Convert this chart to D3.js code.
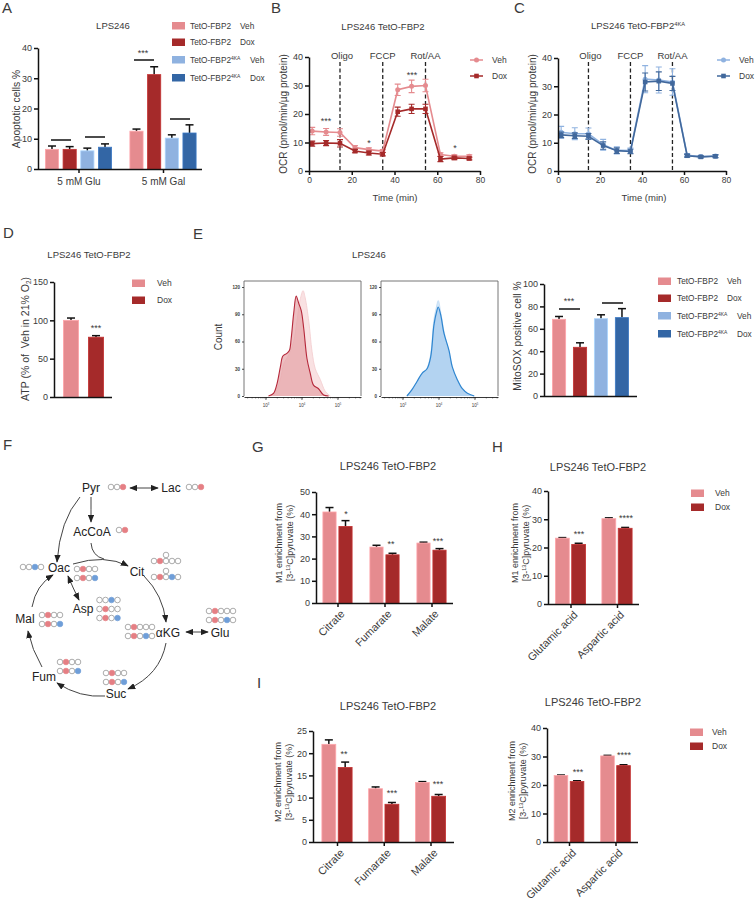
<!DOCTYPE html>
<html>
<head>
<meta charset="utf-8">
<script src="https://cdn.jsdelivr.net/npm/d3@7"></script>
<style>
  html, body { margin: 0; padding: 0; background: #fff; }
  svg { display: block; }
  text { font-family: "Liberation Sans", Arial, sans-serif; fill: #3a3a3a; }
  .tick text { fill: #3a3a3a; }
</style>
</head>
<body>
<div id="chart"></div>
<script>
// colours
const vehRed = "#e58b8f", doxRed = "#a52a2a", vehBlue = "#8fb2e0", doxBlue = "#3366a5";

// A
const aCats = ["5 mM Glu", "5 mM Gal"];
const aValues = [[6.5, 6.5, 6, 7.2], [12.5, 31.2, 10.2, 11.9]];
const aErrors = [[1.1, 0.9, 0.9, 1.1], [0.7, 2.6, 1.1, 2.7]];
const aTicks = [0, 10, 20, 30, 40];

// B, C seahorse traces
const times = [1.5, 8, 14.5, 21.5, 28, 34.5, 41.5, 48, 54.5, 61.5, 68, 75];
const bVeh = [14, 13.7, 13.5, 8.2, 7.5, 7, 28.5, 29.7, 30, 5.8, 5.2, 5.2];
const bVehErr = [1.3, 1.2, 1.3, 0.7, 0.6, 0.5, 2, 2.2, 2.2, 0.6, 0.5, 0.5];
const bDox = [9.6, 9.8, 9.7, 7, 6.3, 5.9, 20.8, 21.8, 21.8, 4.2, 4.6, 4.4];
const bDoxErr = [0.9, 0.9, 1.3, 0.6, 0.7, 0.6, 1.6, 1.6, 1.6, 0.9, 0.6, 0.5];
const cVeh = [13.7, 13.2, 13.2, 9.3, 7.3, 7.2, 32.5, 32.2, 31.5, 5.6, 5.1, 5.3];
const cVehErr = [2.1, 2.1, 2, 1.9, 1.3, 0.9, 4.8, 4.6, 4.7, 0.6, 0.4, 0.5];
const cDox = [12.8, 12.5, 12.3, 9, 7.2, 6.9, 31.5, 31.8, 31, 5.4, 5, 5.2];
const cDoxErr = [1, 1, 1, 1.3, 1, 0.8, 3.2, 3.3, 2.5, 0.5, 0.4, 0.5];
const injections = [14.5, 34.5, 54.5];
const injectionNames = ["Oligo", "FCCP", "Rot/AA"];
const ocrTicks = [0, 10, 20, 30, 40];
const timeTicks = [0, 20, 40, 60, 80];

// D
const dValues = [[100, 78]];
const dErrors = [[3, 2]];
const dTicks = [0, 50, 100, 150];

// E histograms: log10 intensity, count
const eVehLog = [3.12, 3.26, 3.4, 3.49, 3.63, 3.77, 3.86, 3.95, 4.03, 4.09, 4.19, 4.28, 4.37, 4.51, 4.65, 4.79];
const eVehCount = [0, 5, 18, 35, 45, 60, 82, 106, 116, 108, 82, 49, 30, 18, 5, 0];
const eDoxLog = [3.07, 3.21, 3.31, 3.4, 3.47, 3.58, 3.65, 3.7, 3.77, 3.84, 3.91, 3.98, 4.05, 4.14, 4.23, 4.32, 4.46, 4.6, 4.74];
const eDoxCount = [0, 3, 14, 32, 44, 47, 50, 63, 91, 110, 102, 94, 74, 41, 25, 12, 8, 1, 0];
const eBlueLog = [3.11, 3.25, 3.39, 3.53, 3.67, 3.77, 3.86, 3.93, 3.98, 4.05, 4.14, 4.28, 4.37, 4.51, 4.65, 4.79, 4.98];
const eBlueCount = [0, 7, 16, 25, 30, 43, 78, 92, 98, 89, 69, 50, 32, 18, 8, 3, 0];
const eBlueLightCount = [0, 6, 15, 24, 31, 46, 84, 98, 105, 92, 71, 48, 31, 17, 7, 2, 0];
const histTicks = [0, 30, 60, 90, 120];
const eValues = [[68.5, 43.5, 69, 70]];
const eErrors = [[2.5, 4, 3.5, 8]];
const eTicks = [0, 20, 40, 60, 80, 100];

// G, H, I
const acids = ["Citrate", "Fumarate", "Malate"];
const aminos = ["Glutamic acid", "Aspartic acid"];
const gValues = [[41, 34.5], [25.2, 21.7], [27, 23.8]];
const gErrors = [[2, 2.6], [0.8, 0.7], [0.4, 0.7]];
const gTicks = [0, 10, 20, 30, 40, 50];
const hValues = [[23.3, 21.1], [30.2, 26.8]];
const hErrors = [[0.2, 0.4], [0.3, 0.3]];
const hTicks = [0, 10, 20, 30, 40];
const iValues = [[22, 16.8], [12, 8.5], [13.4, 10.3]];
const iErrors = [[1, 1.2], [0.4, 0.4], [0.2, 0.4]];
const iTicks = [0, 5, 10, 15, 20, 25];
const jValues = [[23.3, 21.2], [30.2, 26.8]];
const jErrors = [[0.2, 0.3], [0.2, 0.3]];

// F labels
const metabolites = ["Pyr", "Lac", "AcCoA", "Oac", "Cit", "αKG", "Glu", "Suc", "Fum", "Mal", "Asp"];

const svg = d3.select("#chart").append("svg").attr("width", 756).attr("height", 900);

const defs = svg.append("defs");
function marker(id, orient) {
  defs.append("marker").attr("id", id)
    .attr("viewBox", "0 0 10 8").attr("refX", 9).attr("refY", 4)
    .attr("markerUnits", "userSpaceOnUse").attr("markerWidth", 8).attr("markerHeight", 6.4)
    .attr("orient", orient)
    .append("path").attr("d", "M0,0L10,4L0,8Z").attr("fill", "#222");
}
marker("arrow", "auto");
marker("arrow-start", "auto-start-reverse");

function label(g, x, y, str, size, anchor) {
  return g.append("text").attr("x", x).attr("y", y)
    .attr("font-size", size).attr("text-anchor", anchor || "middle").text(str);
}

// text with a raised or lowered bit, pieces = [[text, "sup"|"sub"|null], ...]
function richText(sel, pieces, size) {
  let shift = 0;
  pieces.forEach(([t, kind]) => {
    const target = kind === "sup" ? -size * 0.35 : kind === "sub" ? size * 0.2 : 0;
    sel.append("tspan").attr("dy", target - shift)
      .attr("font-size", kind ? size * 0.6 : size).text(t);
    shift = target;
  });
}

function yTitle(g, x, y, pieces, size) {
  const t = g.append("text").attr("transform", `translate(${x},${y}) rotate(-90)`)
    .attr("text-anchor", "middle").attr("font-size", size);
  richText(t, pieces, size);
}

function styleAxis(a, size) {
  a.selectAll(".domain").attr("stroke", "#111").attr("stroke-width", 1.5);
  a.selectAll(".tick line").attr("stroke", "#111").attr("stroke-width", 1.5);
  a.selectAll(".tick text").attr("font-size", size)
    .attr("font-family", '"Liberation Sans", Arial, sans-serif');
}

// grouped bars with upper error bars
function barChart(o) {
  const g = svg.append("g");
  const y = d3.scaleLinear().domain([0, d3.max(o.ticks)]).range([o.y0, o.y1]);
  const x0 = d3.scalePoint().domain(o.cats).range(o.centers);
  const nSeries = o.values[0].length;
  const x1 = d3.scaleBand().domain(d3.range(nSeries))
    .range([-o.groupW / 2, o.groupW / 2]).paddingInner(o.pad);

  o.values.forEach((row, i) => {
    row.forEach((v, j) => {
      const cx = x0(o.cats[i]) + x1(j) + x1.bandwidth() / 2;
      const top = y(v + o.errors[i][j]);
      g.append("line").attr("x1", cx).attr("x2", cx).attr("y1", y(v)).attr("y2", top)
        .attr("stroke", "#111").attr("stroke-width", 1.5);
      g.append("line").attr("x1", cx - 4).attr("x2", cx + 4).attr("y1", top).attr("y2", top)
        .attr("stroke", "#111").attr("stroke-width", 1.5);
      g.append("rect").attr("x", x0(o.cats[i]) + x1(j) + 0.4).attr("y", y(v))
        .attr("width", x1.bandwidth() - 0.8).attr("height", y(0) - y(v))
        .attr("fill", o.colors[j])
        .attr("stroke", d3.color(o.colors[j]).brighter(0.5)).attr("stroke-width", 0.8);
    });
  });

  const ay = g.append("g").attr("transform", `translate(${o.x},0)`)
    .call(d3.axisLeft(y).tickValues(o.ticks).tickSize(4).tickPadding(2).tickSizeOuter(0));
  styleAxis(ay, 9);

  const ax = g.append("g").attr("transform", `translate(0,${o.y0})`)
    .call(d3.axisBottom(x0).tickSize(o.hideXTicks ? 0 : 4).tickPadding(o.rotate ? 4 : 5));
  ax.select(".domain").attr("d", `M${o.x},0.5H${o.xEnd}`);
  styleAxis(ax, o.rotate ? 10.8 : 10);
  if (o.hideXTicks) ax.selectAll(".tick text").remove();
  if (o.rotate) {
    ax.selectAll(".tick text").attr("text-anchor", "end")
      .attr("transform", "rotate(-45)").attr("dx", "-3").attr("dy", "0.5em");
  }
  return { g, x0, x1, y };
}

function legendBars(x, textX, rows, size) {
  rows.forEach(r => {
    svg.append("rect").attr("x", x).attr("y", r.y - 3.5).attr("width", r.w || 13).attr("height", 7.5)
      .attr("fill", r.color);
    const t = svg.append("text").attr("x", textX).attr("y", r.y + 3).attr("font-size", size);
    if (r.kind) {
      richText(t, [["TetO-FBP2", null], ["4KA", "sup"]], size);
      label(svg, r.x2b, r.y + 3, r.label, size, "start");
    } else if (r.base) {
      t.text(r.base);
      label(svg, r.x2, r.y + 3, r.label, size, "start");
    } else {
      t.text(r.label);
    }
  });
}

function stars(str, x, y) {
  label(svg, x, y, str, 9);
}
function sigLine(x1, x2, y) {
  svg.append("line").attr("x1", x1).attr("x2", x2).attr("y1", y).attr("y2", y)
    .attr("stroke", "#111").attr("stroke-width", 1.5);
}

// panel letters
[["A", 2, 13], ["B", 271, 13], ["C", 514, 13], ["D", 3, 238], ["E", 193, 239],
 ["F", 3, 450], ["G", 252, 452], ["H", 492, 452], ["I", 257, 688]].forEach(d => {
  label(svg, d[1], d[2], d[0], 15, "start");
});

// ---- A
label(svg, 113, 29, "LPS246", 9.5);
barChart({ cats: aCats, values: aValues, errors: aErrors, ticks: aTicks, colors: [vehRed, doxRed, vehBlue, doxBlue],
  x: 38, xEnd: 202, y0: 169, y1: 48, centers: [78.5, 163], groupW: 67, pad: 0.21 });
yTitle(svg, 20, 109, [["Apoptotic cells %", null]], 10.3);
legendBars(172, 190, [
  { y: 25.5, color: vehRed, base: "TetO-FBP2", label: "Veh", x2: 240 },
  { y: 42, color: doxRed, base: "TetO-FBP2", label: "Dox", x2: 240 },
  { y: 59.5, color: vehBlue, kind: 1, label: "Veh", x2b: 250 },
  { y: 77.5, color: doxBlue, kind: 1, label: "Dox", x2b: 250 }
], 8.3);
sigLine(51, 71, 140); sigLine(85, 105, 137); sigLine(134, 154, 60); sigLine(170, 190, 119);
stars("***", 143, 56);

// ---- B, C
function ocrChart(o) {
  const g = svg.append("g");
  const x = d3.scaleLinear().domain([0, 80]).range([o.x, o.xEnd]);
  const y = d3.scaleLinear().domain([0, 40]).range([o.y0, o.y1]);
  const line = d3.line().x((d, i) => x(times[i])).y(d => y(d));

  injections.forEach((t, i) => {
    g.append("line").attr("x1", x(t)).attr("x2", x(t)).attr("y1", 62).attr("y2", o.y0)
      .attr("stroke", "#222").attr("stroke-width", 1.3).attr("stroke-dasharray", "4,2.5");
    label(g, x(t) + (i === 0 ? 2 : 0), 58.5, injectionNames[i], 9.5);
  });

  o.series.forEach(s => {
    g.append("path").attr("d", line(s.values)).attr("fill", "none")
      .attr("stroke", s.color).attr("stroke-width", 1.6);
    s.values.forEach((v, i) => {
      const cx = x(times[i]);
      const hi = y(v + s.errors[i]), lo = y(v - s.errors[i]);
      g.append("path").attr("d", `M${cx - 3},${hi}H${cx + 3}M${cx},${hi}V${lo}M${cx - 3},${lo}H${cx + 3}`)
        .attr("fill", "none").attr("stroke", s.color).attr("stroke-width", 1.1);
      if (s.square) {
        g.append("rect").attr("x", cx - 2.3).attr("y", y(v) - 2.3).attr("width", 4.6).attr("height", 4.6).attr("fill", s.color);
      } else {
        g.append("circle").attr("cx", cx).attr("cy", y(v)).attr("r", 2.5).attr("fill", s.color);
      }
    });
  });

  styleAxis(g.append("g").attr("transform", `translate(${o.x},0)`)
    .call(d3.axisLeft(y).tickValues(ocrTicks).tickSize(4).tickPadding(2).tickSizeOuter(0)), 9);
  styleAxis(g.append("g").attr("transform", `translate(0,${o.y0})`)
    .call(d3.axisBottom(x).tickValues(timeTicks).tickSize(4).tickPadding(2).tickSizeOuter(0)), 8.5);

  yTitle(g, o.x - 22, 114, [["OCR (pmol/min/µg protein)", null]], 10);
  label(g, o.x + 86, 200.5, "Time (min)", 9.5);

  o.series.forEach((s, i) => {
    const ly = 60 + i * 16;
    g.append("line").attr("x1", o.legX).attr("x2", o.legX + 13).attr("y1", ly).attr("y2", ly)
      .attr("stroke", s.color).attr("stroke-width", 1.5);
    if (s.square) {
      g.append("rect").attr("x", o.legX + 4.2).attr("y", ly - 2.3).attr("width", 4.6).attr("height", 4.6).attr("fill", s.color);
    } else {
      g.append("circle").attr("cx", o.legX + 6.5).attr("cy", ly).attr("r", 2.5).attr("fill", s.color);
    }
    label(g, o.legX + 22, ly + 3, s.name, 8.5, "start");
  });
}
ocrChart({ x: 309, xEnd: 480, y0: 171, y1: 57, legX: 470, series: [
  { name: "Veh", values: bVeh, errors: bVehErr, color: vehRed },
  { name: "Dox", values: bDox, errors: bDoxErr, color: doxRed, square: true } ] });
ocrChart({ x: 558, xEnd: 726, y0: 171, y1: 58, legX: 717, series: [
  { name: "Veh", values: cVeh, errors: cVehErr, color: vehBlue },
  { name: "Dox", values: cDox, errors: cDoxErr, color: "#41689c", square: true } ] });
label(svg, 383, 30, "LPS246 TetO-FBP2", 9.5);
const cTitle = svg.append("text").attr("x", 638).attr("y", 29).attr("text-anchor", "middle").attr("font-size", 9.5);
richText(cTitle, [["LPS246 TetO-FBP2", null], ["4KA", "sup"]], 9.5);
stars("***", 326, 124); stars("*", 369, 146); stars("***", 412, 78); stars("*", 455, 151);

// ---- D
label(svg, 89, 258, "LPS246 TetO-FBP2", 9.5);
barChart({ cats: ["ATP"], values: dValues, errors: dErrors, ticks: dTicks, colors: [vehRed, doxRed],
  x: 54, xEnd: 112, y0: 397, y1: 282, centers: [83.5, 83.5], groupW: 41, pad: 0.36, hideXTicks: true });
yTitle(svg, 29, 339, [["ATP (% of\u00a0\u00a0Veh in 21% O", null], ["2", "sub"], [")", null]], 10.5);
legendBars(132, 157, [{ y: 283, color: vehRed, label: "Veh" }, { y: 300, color: doxRed, label: "Dox" }], 8.5);
stars("***", 96, 331);

// ---- E histograms
label(svg, 369, 258, "LPS246", 9.5);
function histogram(o) {
  const g = svg.append("g");
  const x = d3.scaleLog().domain([Math.pow(10, 2.39), Math.pow(10, 5.64)]).range([o.x, o.x + 117]);
  const y = d3.scaleLinear().domain([0, 120]).range([396, 287]);
  const area = d3.area().curve(d3.curveCatmullRom)
    .x(d => x(Math.pow(10, d[0]))).y0(396).y1(d => y(d[1]));
  const line = area.lineY1();

  o.traces.forEach(t => {
    const pts = t.logs.map((l, i) => [l, t.counts[i]]);
    g.append("path").attr("d", area(pts)).attr("fill", t.fill).attr("fill-opacity", t.opacity);
    g.append("path").attr("d", line(pts)).attr("fill", "none").attr("stroke", t.stroke).attr("stroke-width", t.width);
  });

  g.append("path").attr("d", `M${o.x},396V281H${o.x + 117}V396`).attr("fill", "none")
    .attr("stroke", "#666").attr("stroke-width", 0.9);

  const minor = [];
  [2, 3, 4, 5].forEach(k => d3.range(1, 10).forEach(m => {
    const v = m * Math.pow(10, k);
    if (v >= x.domain()[0] && v <= x.domain()[1]) minor.push(v);
  }));
  const ax = g.append("g").attr("transform", "translate(0,397)")
    .call(d3.axisBottom(x).tickValues(minor).tickSize(1.5).tickFormat("").tickSizeOuter(0));
  ax.select(".domain").attr("stroke", "#222").attr("stroke-width", 0.9);
  ax.selectAll(".tick line").attr("stroke", "#222").attr("stroke-width", 0.5);
  [3, 4, 5].forEach(k => {
    const px = x(Math.pow(10, k));
    g.append("line").attr("x1", px).attr("x2", px).attr("y1", 397).attr("y2", 400).attr("stroke", "#222").attr("stroke-width", 0.7);
    const t = g.append("text").attr("x", px).attr("y", 407).attr("text-anchor", "middle").attr("font-size", 4.5);
    richText(t, [["10", null], [String(k), "sup"]], 4.5);
  });
  const ay = g.append("g").attr("transform", `translate(${o.x},0)`)
    .call(d3.axisLeft(y).tickValues(histTicks).tickSize(2).tickPadding(2).tickSizeOuter(0));
  ay.select(".domain").remove();
  ay.selectAll(".tick line").attr("stroke", "#222").attr("stroke-width", 0.8);
  ay.selectAll(".tick text").attr("font-size", 4.5).attr("font-weight", "bold");
}
histogram({ x: 244, traces: [
  { logs: eVehLog, counts: eVehCount, fill: "#f5cdce", opacity: 0.6, stroke: "#f4cfd1", width: 0.9 },
  { logs: eDoxLog, counts: eDoxCount, fill: "#e6a3a6", opacity: 0.7, stroke: "#b5283a", width: 1.1 } ] });
histogram({ x: 381, traces: [
  { logs: eBlueLog, counts: eBlueLightCount, fill: "#bcd9f4", opacity: 0.6, stroke: "#bcd9f4", width: 0.8 },
  { logs: eBlueLog, counts: eBlueCount, fill: "#aacdef", opacity: 0.8, stroke: "#2f86d0", width: 1.2 } ] });
yTitle(svg, 222, 337, [["Count", null]], 10);

// ---- E bars
barChart({ cats: ["MitoSOX"], values: eValues, errors: eErrors, ticks: eTicks, colors: [vehRed, doxRed, vehBlue, doxBlue],
  x: 544, xEnd: 637, y0: 396, y1: 284, centers: [590.5, 590.5], groupW: 77, pad: 0.33, hideXTicks: true });
yTitle(svg, 521, 336, [["MitoSOX positive cell %", null]], 10.3);
legendBars(658, 677, [
  { y: 281, color: vehRed, base: "TetO-FBP2", label: "Veh", x2: 727 },
  { y: 298, color: doxRed, base: "TetO-FBP2", label: "Dox", x2: 727 },
  { y: 315.5, color: vehBlue, kind: 1, label: "Veh", x2b: 737 },
  { y: 333.5, color: doxBlue, kind: 1, label: "Dox", x2b: 737 }
], 8.3);
sigLine(559, 580, 309); sigLine(602, 623, 303);
stars("***", 569, 304);

// ---- F pathway
const nodePos = [[91, 492], [171, 492], [92, 536], [59, 572], [137, 576], [168, 637], [220, 637], [116, 698], [44, 681], [25, 623], [83, 613]];
metabolites.forEach((m, i) => label(svg, nodePos[i][0], nodePos[i][1], m, 12).style("fill", "#222"));

const links = [
  { p: [80, 497, 60, 520, 57, 562], end: 1 },
  { p: [91, 497, 91, 510, 91, 522], end: 1 },
  { p: [130, 488, 144, 488, 158, 488], end: 1, start: 1 },
  { p: [73, 564, 105, 554, 128, 566], end: 1 },
  { p: [91, 543, 92, 556, 104, 559] },
  { p: [144, 576, 163, 595, 166, 622], end: 1 },
  { p: [186, 632, 197, 632, 208, 632], end: 1, start: 1 },
  { p: [166, 643, 160, 675, 128, 689], end: 1 },
  { p: [105, 696, 80, 698, 57, 683], end: 1 },
  { p: [42, 667, 32, 650, 28, 631], end: 1 },
  { p: [32, 607, 36, 585, 53, 575], end: 1 },
  { p: [68, 576, 73, 588, 79, 600], end: 1, start: 1 }
];
links.forEach(l => {
  const path = d3.path();
  path.moveTo(l.p[0], l.p[1]);
  path.quadraticCurveTo(l.p[2], l.p[3], l.p[4], l.p[5]);
  const el = svg.append("path").attr("d", path.toString()).attr("fill", "none")
    .attr("stroke", "#444").attr("stroke-width", 1);
  if (l.end) el.attr("marker-end", "url(#arrow)");
  if (l.start) el.attr("marker-start", "url(#arrow-start)");
});

// carbon rows: x of first circle, y, pattern (o empty, r red, b blue)
const carbonRows = [
  [111, 487, "oor"], [189, 487, "oor"], [119, 530, "or"],
  [23, 567, "oobo"], [77, 569, "oroo"], [77, 578, "orob"],
  [154, 561, "orooo"], [154, 577, "orobo"],
  [128, 627, "orooo"], [128, 636, "orobo"],
  [209, 611, "orooo"], [209, 620, "orobo"],
  [106, 673, "oroo"], [106, 682, "orob"],
  [60, 662, "oroo"], [60, 671, "orob"],
  [42, 615, "oroo"], [42, 624, "orob"],
  [99.5, 600, "oobo"], [99.5, 609, "oroo"], [99.5, 618, "orob"]
];
const carbonFill = { o: "#fff", r: "#e57f84", b: "#6f9ed8" };
carbonRows.forEach(([x0, cy, pat]) => {
  pat.split("").forEach((c, i) => {
    svg.append("circle").attr("cx", x0 + i * 6).attr("cy", cy).attr("r", 2.8)
      .attr("fill", carbonFill[c]).attr("stroke", c === "o" ? "#888" : carbonFill[c]).attr("stroke-width", 0.7);
  });
  if (x0 === 154) {
    svg.append("circle").attr("cx", x0 + 12).attr("cy", cy - 6).attr("r", 2.8)
      .attr("fill", "#fff").attr("stroke", "#888").attr("stroke-width", 0.7);
  }
});

// ---- G
label(svg, 388, 470, "LPS246 TetO-FBP2", 11);
barChart({ cats: acids, values: gValues, errors: gErrors, ticks: gTicks, colors: [vehRed, doxRed],
  x: 316, xEnd: 453, y0: 603, y1: 492, centers: [337.5, 431.5], groupW: 30, pad: 0.125, rotate: true });
yTitle(svg, 282, 543, [["M1 enrichment from", null]], 9);
yTitle(svg, 293, 543, [["[3-", null], ["13", "sup"], ["C]pyruvate (%)", null]], 9);
stars("*", 346, 517); stars("**", 391, 547); stars("***", 438, 544);

// ---- H
label(svg, 598, 471, "LPS246 TetO-FBP2", 11);
barChart({ cats: aminos, values: hValues, errors: hErrors, ticks: hTicks, colors: [vehRed, doxRed],
  x: 548, xEnd: 639, y0: 604, y1: 491, centers: [570.5, 617], groupW: 31, pad: 0.1, rotate: true });
yTitle(svg, 518, 543, [["M1 enrichment from", null]], 9);
yTitle(svg, 529, 543, [["[3-", null], ["13", "sup"], ["C]pyruvate (%)", null]], 9);
stars("***", 579, 537); stars("****", 626, 521);
legendBars(691, 715, [{ y: 493, color: vehRed, label: "Veh" }, { y: 507, color: doxRed, label: "Dox" }], 8.5);

// ---- I
label(svg, 388, 710, "LPS246 TetO-FBP2", 11);
barChart({ cats: acids, values: iValues, errors: iErrors, ticks: iTicks, colors: [vehRed, doxRed],
  x: 313, xEnd: 454, y0: 842, y1: 731, centers: [337, 430.5], groupW: 31, pad: 0.1, rotate: true });
yTitle(svg, 281, 782, [["M2 enrichment from", null]], 9);
yTitle(svg, 292, 782, [["[3-", null], ["13", "sup"], ["C]pyruvate (%)", null]], 9);
stars("**", 344, 757); stars("***", 392, 796); stars("***", 438, 787);

label(svg, 593, 706, "LPS246 TetO-FBP2", 11);
barChart({ cats: aminos, values: jValues, errors: jErrors, ticks: hTicks, colors: [vehRed, doxRed],
  x: 547, xEnd: 638, y0: 842, y1: 728, centers: [569, 615.5], groupW: 30.5, pad: 0.1, rotate: true });
yTitle(svg, 515, 781, [["M2 enrichment from", null]], 9);
yTitle(svg, 526, 781, [["[3-", null], ["13", "sup"], ["C]pyruvate (%)", null]], 9);
stars("***", 578, 775); stars("****", 624, 758);
legendBars(690, 712, [{ y: 732, color: vehRed, label: "Veh" }, { y: 746, color: doxRed, label: "Dox" }], 8.5);
</script>
</body>
</html>
